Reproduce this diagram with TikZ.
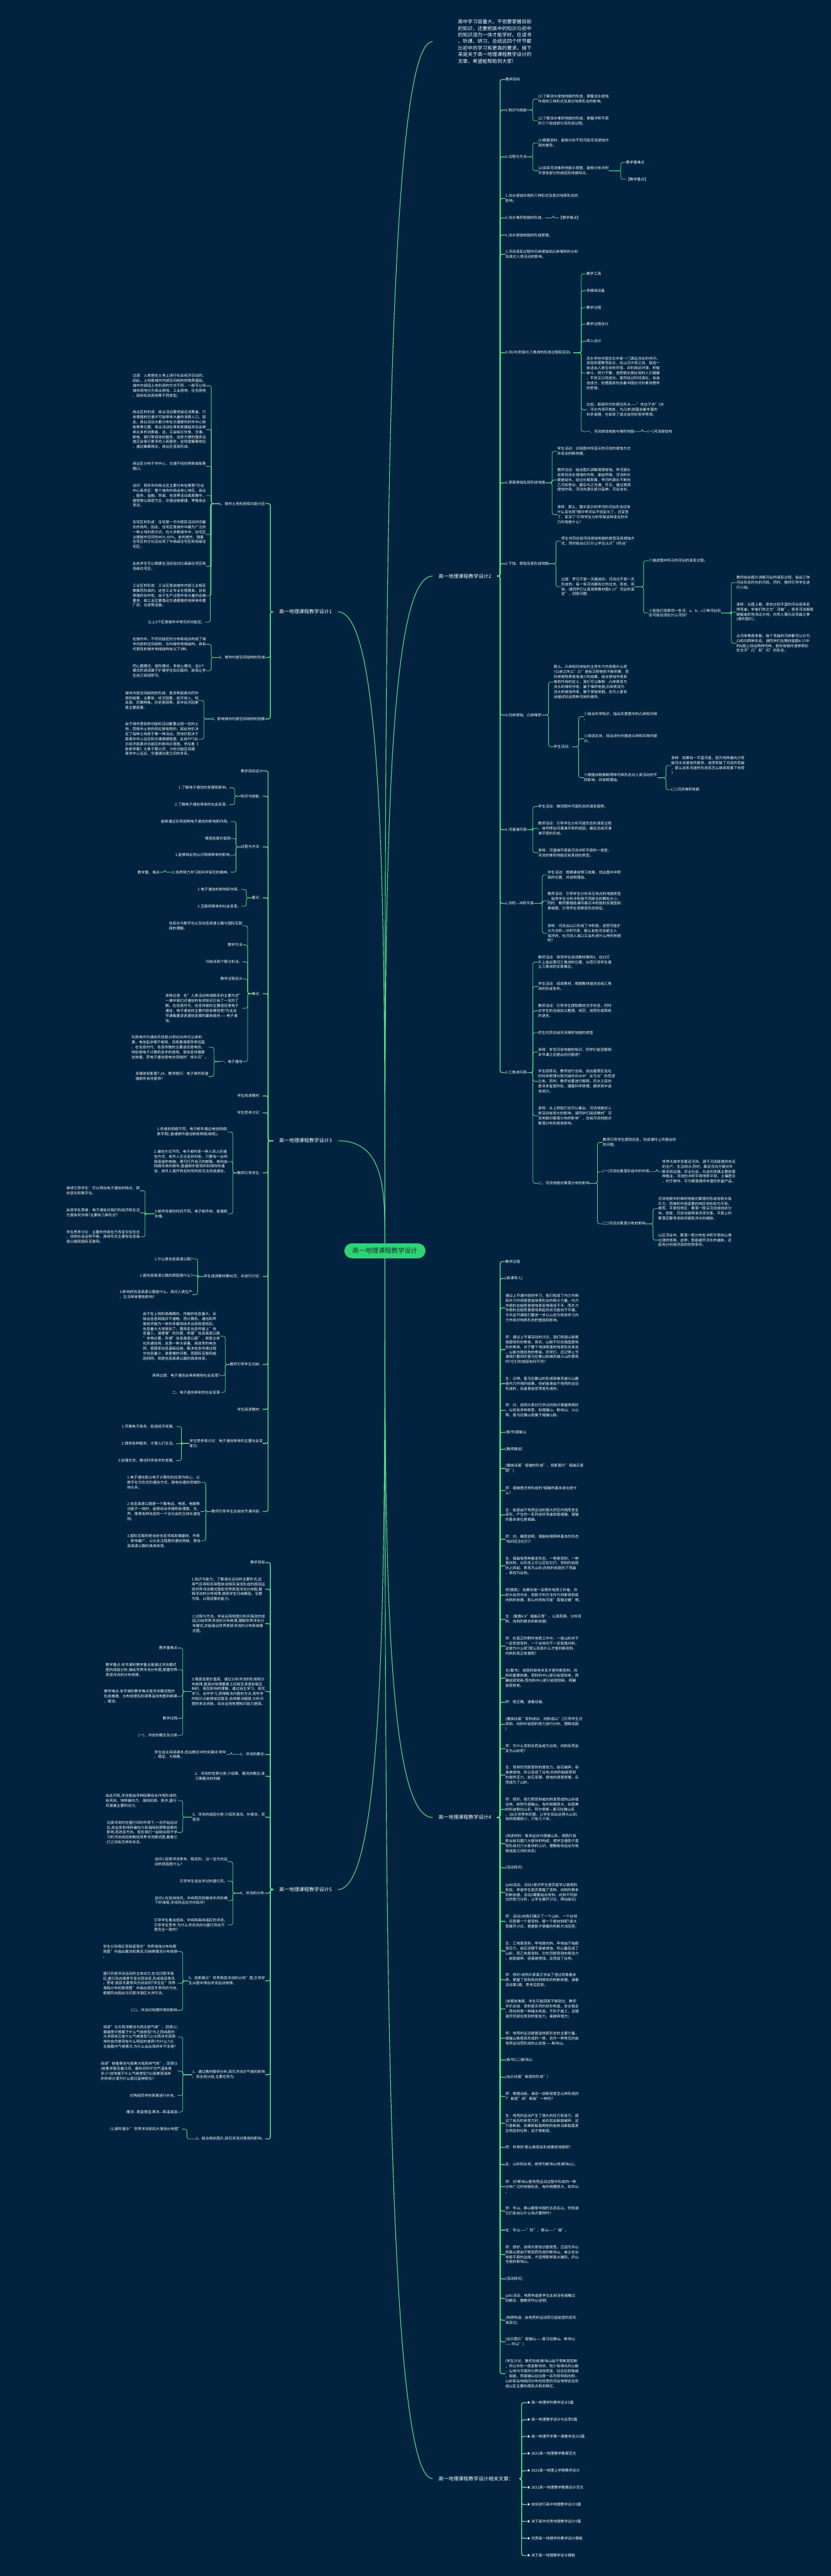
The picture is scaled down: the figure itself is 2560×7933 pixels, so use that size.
\documentclass[tikz,border=0pt]{standalone}
\usepackage{fontspec}
\setmainfont{Noto Sans CJK SC}
\usetikzlibrary{calc}

\definecolor{bgblue}{RGB}{1,35,63}
\definecolor{edge}{RGB}{84,218,138}
\definecolor{rootfill}{RGB}{46,211,118}
\definecolor{roottext}{RGB}{24,52,44}

\newcommand{\fsmall}{\fontsize{11.3}{15.2}\selectfont}
\newcommand{\fcat}{\fontsize{15.4}{20}\selectfont}
\newcommand{\fintro}{\fontsize{15.1}{20.2}\selectfont}
\newcommand{\froot}{\fontsize{20}{24}\selectfont}

\tikzset{
  txt/.style={font=\fsmall, text=white, inner sep=0pt, align=left},
  rt/.style={txt, anchor=west},
  lt/.style={txt, anchor=east},
  cat/.style={font=\fcat, text=white, inner xsep=18pt, inner ysep=3pt},
  root/.style={fill=rootfill, text=roottext, font=\froot, rounded corners=23pt,
    minimum width=250pt, minimum height=46pt},
  link/.style={draw=edge, line width=1.6pt, rounded corners=6pt},
  trunk/.style={link, line width=2.6pt},
  stem/.style={draw=edge, line width=2.2pt},
}

\begin{document}
\begin{tikzpicture}[x=1pt, y=-1pt]

  % ---- canvas ----
  \fill[bgblue] (0,0) rectangle (2560,7933);
  \useasboundingbox (0,0) rectangle (2560,7933);

  % ---- root and intro ----
  \node[root] (root) at (1186,3852) {高一地理课程教学设计};
  \node[font=\fintro, text=white, align=left, anchor=west, inner xsep=78pt, inner ysep=0pt]
    (intro) at (1333,128) {高中学习容量大，不但要掌握目前\\的知识，还要把高中的知识与初中\\的知识溶为一体才能学好。在读书\\、听课、研习、总结这四个环节都\\比初中的学习有更高的要求。接下\\来是关于高一地理课程教学设计的\\文章，希望能帮助到大家!};

  % ---- main branches ----
  \node[cat, anchor=east] (a) at (1041,1884) {高一地理课程教学设计1};
  \node[cat, anchor=west] (b) at (1333,1774) {高一地理课程教学设计2};
  \node[cat, anchor=east] (c) at (1041,3513) {高一地理课程教学设计3};
  \node[cat, anchor=west] (d) at (1333,5597) {高一地理课程教学设计4};
  \node[cat, anchor=east] (e) at (1041,5819) {高一地理课程教学设计5};
  \node[cat, anchor=west] (f) at (1333,7633) {高一地理课程教学设计相关文章：};

  % curves leave the root vertically and meet each branch horizontally
  \foreach \t/\an/\ra in {intro/west/north, b/west/north, a/east/north, c/east/north,
                         d/west/south, e/east/south, f/west/south} {
    \draw[stem] (root.\ra) .. controls ($(root.\ra)!0.5!(root.\ra |- \t.\an)$)
      and (root.\ra |- \t.\an) .. (\t.\an);
  }

  % ---- branch 1 (left) ----
  \node[lt] (a1) at (817,1551) {1、城市土地利用和功能分区};
  \node[lt] (a1a) at (635,1188) {过渡：人类是在土地上进行社会经济活动的，\\因此，土地是城市内部空间结构的物质基础，\\城市内部因土地利用的方式不同，一般可以将\\城市用地分为商业用地、工业用地、住宅用地\\、政府机关用地等不同类型。};
  \node[lt] (a1b) at (635,1323) {商业区的形成：商业活动要求接近消费者，只\\有便捷的交通才可能带来大量的消费人口，因\\此，商业活动大都分布在交通便利的市中心和\\街角等位置。商业活动在某地发展起来后会带\\来众多的消费者，这，又会吸引饮食、交通、\\邮电、银行等其他的服务，这些方便的服务设\\施又会吸引更多的人和服务，这就是集聚效应\\。通过集聚效应，商业区逐渐形成。};
  \node[lt] (a1c) at (635,1436) {商业区分布于市中心、交通干线的两侧或街角\\路口。};
  \node[lt] (a1d) at (635,1526) {设问：西安市的商业区主要分布在哪里?引出\\中心商务区：整个城市的商业核心地区，商业\\、服务、金融、贸易、信息等活动高度集中，\\建筑物以高层为主，交通运输便捷，零售商业\\发达。};
  \node[lt] (a1e) at (635,1646) {住宅区的形成：住宅是一天中居民活动时间最\\长的场所，因此，住宅区是城市中最为广泛的\\一种土地利用方式。在大多数城市中，住宅区\\占据城市空间的40\%-60\%。有的城市，随着\\住宅区的分化还出现了中高级住宅区和低级住\\宅区。};
  \node[lt] (a1f) at (635,1744) {此处学生可以根据生活经验对比高级住宅区和\\低级住宅区。};
  \node[lt] (a1g) at (635,1834) {工业区的形成：工业区是由城市内部工业相互\\聚集而形成的。这些工业专业化程度高，且有\\很强的协作性。由于生产过程中有大量的运输\\要求，故工业区要靠近交通便捷的地带来布置\\厂房、仓库等设施。};
  \node[lt] (a1h) at (632,1916) {以上3个区是城市中常见的功能区。};
  \node[lt] (a2) at (817,2025) {2、城市内部空间结构的形成};
  \node[lt] (a2a) at (635,1984) {在城市中，不同功能区的分布和组合构成了城\\市内部的空间结构，也叫城市地域结构。具有\\代表性的城市地域结构有以下3种。};
  \node[lt] (a2b) at (635,2066) {同心圆模式、扇形模式、多核心模式。这3个\\模式的阅读属于扩展学生知识面的，故我让学\\生自己阅读即可。};
  \node[lt] (a3) at (817,2214) {3、影响城市内部空间结构的因素};
  \node[lt] (a3a) at (612,2157) {城市内部空间结构的形成，是多种因素共同作\\用的结果。主要有：经济因素、经济收入、知\\名度、宗教种族、历史原因等，其中经济因素\\是主要因素。};
  \node[lt] (a3b) at (612,2276) {由于城市里各种功能的活动都要占用一定的土\\地，而城市土地的供应是有限的，因此地价决\\定了每种土地用于哪一种活动。而地价取决于\\距离市中心远近和交通便捷程度。此处PPT出\\示经济因素对功能区的影响示意图。学生看《\\新新学案》大册子第25页，分析功能区和距\\离市中心远近、交通通达度之间的关系。};

  % ---- branch 3 (left) ----
  \node[lt] (c1) at (810,2374) {教学目标设计};
  \node[lt] (c2) at (810,2452) {知识与技能：};
  \node[lt] (c2a) at (707,2426) {1.了解电子通信的发展和影响。};
  \node[lt] (c2b) at (707,2478) {2.了解电子通信带来的社会变革。};
  \node[lt] (c3) at (810,2608) {过程与方法：};
  \node[lt] (c3a) at (711,2530) {能够通过实例说明电子通信的影响和作用。};
  \node[lt] (c3b) at (711,2582) {情感态度价值观};
  \node[lt] (c3c) at (711,2634) {1.能够辩证地认识网络带来的影响;};
  \node[lt] (c3d) at (711,2686) {2.培养努力学习和科学探究的精神。};
  \node[lt] (c3d1) at (492,2686) {教学重、难点};
  \node[lt] (c4) at (810,2765) {重点：};
  \node[lt] (c4a) at (743,2739) {1.电子通信的影响和作用。};
  \node[lt] (c4b) at (743,2791) {2.互联网带来的社会变革。};
  \node[lt] (c5) at (810,3060) {难点：};
  \node[lt] (c5a) at (747,2851) {信息化与数字化以及信息高速公路与国际互联\\网的理解。};
  \node[lt] (c5b) at (747,2910) {教学方法};
  \node[lt] (c5c) at (747,2962) {归纳法和个案分析法。};
  \node[lt] (c5d) at (747,3015) {教学过程设计};
  \node[lt] (c5e) at (747,3105) {承转过渡：在"人类活动地域联系的主要方式"\\一课中我们对通信的有关知识已有了一定的了\\解。在信息时代，信息传输的主要途径是电子\\通信，电子通信的主要内容有哪些呢?为此这\\节课着重讲述通信发展的最新趋向——电子通\\信。};
  \node[lt] (c5f) at (747,3269) {一、电子通信};
  \node[lt] (c5f1) at (643,3225) {利用电作为通信手段是19世纪30年代以来的\\事，电信起步晚于邮政，但发展速度异常迅猛\\。在信息时代，信息传输的主要途径是电信，\\特别是电子计算机技术的使用，使信息传播更\\加快捷，而电子通信是电信领域的"排头兵"。};
  \node[lt] (c5f2) at (643,3315) {多媒体投影图7.24，教师提问：电子邮件和普\\通邮件有何差异?};
  \node[lt] (c6) at (810,3375) {学生阅读教材：};
  \node[lt] (c7) at (810,3427) {学生思考讨论：};
  \node[lt] (c8) at (810,3612) {教师引导学生：};
  \node[lt] (c8a) at (701,3486) {1.传递的网络不同。电子邮件通过电信网络(\\数字网);普通邮件通过邮政网络(邮局)。};
  \node[lt] (c8b) at (701,3577) {2.通信方式不同。电子邮件是一种人到人的通\\信方式，收件人无论走到何处，只要有一台网\\络连接的电脑，便可打开自己的邮箱，收到由\\网络传来的邮件;普通邮件是场所到场所的通\\信，收件人离开特定的场所就无法完成通信。};
  \node[lt] (c8c) at (701,3738) {3.邮件传递的时间不同。电子邮件快，普通邮\\件慢。};
  \node[lt] (c8c1) at (431,3667) {继续引导学生：可以得出电子通信的特点，即\\信息化和数字化。};
  \node[lt] (c8c2) at (431,3735) {启发学生思维：电子通信对我们的经济和生活\\方面有何作用?主要有几种形式?};
  \node[lt] (c8c3) at (431,3809) {学生思考讨论：主要的作用在于改变交往形式\\、加快社会运转节奏。具体形式主要有信息高\\速公路和国际互联网。};
  \node[lt] (c9) at (810,3931) {学生阅读教材第86页，并进行讨论：};
  \node[lt] (c9a) at (593,3877) {1.什么是信息高速公路?};
  \node[lt] (c9b) at (593,3928) {2.建信息高速公路的原因是什么?};
  \node[lt] (c9c) at (593,3987) {3.影响的信息高速公路是什么，其对人类生产\\、生活带来哪些影响?};
  \node[lt] (c10) at (810,4202) {教师引导学生归纳：};
  \node[lt] (c10a) at (678,4115) {由于在上网的高峰期内，传输的信息量大，反\\映出信息网络并不通畅，而计算机、通信和声\\像技术融为一体的多媒体技术出现和使用后，\\信息量大大地增加了。要改变信息传输上"信\\息量少、速度慢"的问题，修建"信息高速公路\\"非常必要。所谓"信息高速公路"，就是立体\\化的通信网，这是一种大容量、高效率的电信\\网，是国家信息基础设施，解决信息传递过程\\中信息量少、速度慢的问题。而国际互联网或\\因特网，就是信息高速公路的具体体现。};
  \node[lt] (c10b) at (678,4236) {承转过渡：电子通信会带来哪些社会变革?};
  \node[lt] (c10c) at (678,4288) {二、电子通信带来的社会变革};
  \node[lt] (c11) at (810,4340) {学生阅读教材：};
  \node[lt] (c12) at (810,4445) {学生思考和讨论：电子通信带来的主要社会变\\革为：};
  \node[lt] (c12a) at (543,4393) {1.开展电子商务，促进经济发展。};
  \node[lt] (c12b) at (543,4446) {2.提供各种服务，方便人们生活。};
  \node[lt] (c12c) at (543,4498) {3.加强交流，推动科学技术的发展。};
  \node[lt] (c13) at (810,4655) {教师引导学生总结本节课内容：};
  \node[lt] (c13a) at (618,4565) {1.电子通信是以电子计算机的应用为核心，以\\数字化为形式的通信方式，是电信通信领域的\\排头兵。};
  \node[lt] (c13b) at (618,4655) {2.信息高速公路是一个集电话、电视、电脑等\\功能于一体的，能够综合传输和处理图、文、\\声、像等各种信息的一个全社会的立体化通信\\网。};
  \node[lt] (c13c) at (618,4745) {3.国际互联网是当前信息领域发展最快、作用\\、影响最广、公众关注程度的通信网络，是信\\息高速公路的具体体现。};

  % ---- branch 5 (left) ----
  \node[lt] (e1) at (817,4812) {教学目标};
  \node[lt] (e2) at (817,4894) {1.知识与能力。了解海水运动的主要形式,运\\用气压带和风带图来说明风海流形成的原因运\\用世界洋流模式图和世界表层洋流分布图,解\\释洋流的分布规律,提高学生归纳概括、化繁\\为简、以简驭繁的能力。};
  \node[lt] (e3) at (817,5000) {2.过程与方法。学会运用地图分析风海流的成\\因,归纳世界洋流的分布规律,理解世界洋流分\\布模式,并能画出世界表层洋流的分布简单模\\式图。};
  \node[lt] (e4) at (817,5209) {3.情感态度价值观。通过分析洋流的形成和分\\布规律,提高对地理要素之间相互渗透和相互\\制约、相互影响的理解。通过自主学习、探究\\学习、合作学习,获得解决问题的方法,将所学\\的知识点能够前后联系,有效解决疑惑,分析问\\题的来龙去脉。综合运用地理知识能力提高。};
  \node[lt] (e4a) at (547,5075) {教学重难点};
  \node[lt] (e4b) at (547,5142) {教学重点:本节课的教学重点是通过洋流模式\\图的成因分析,描绘世界洋流分布图,掌握世界\\表层洋流的分布规律。};
  \node[lt] (e4c) at (547,5224) {教学难点:本节课的教学难点是洋流模式图的\\形成推理、分布规律及利用等温线地图判断寒\\、暖流。};
  \node[lt] (e4d) at (547,5292) {教学过程};
  \node[lt] (e4e) at (547,5344) {(一)、洋流的概念及分类};
  \node[lt] (e5) at (817,5403) {1、洋流的概念:};
  \node[lt] (e5a) at (697,5403) {学生自主阅读课本,找出概念中的关键词:常年\\、稳定、大规模。};
  \node[lt] (e6) at (817,5470) {2、洋流的性质分类:介绍寒、暖流的概念,练\\习寒暖流的判断};
  \node[lt] (e7) at (817,5596) {3、洋流的成因分类:介绍风海流、补偿流、密\\度流};
  \node[lt] (e7a) at (547,5545) {由此可知,洋流是由多种因素综合作用形成的,\\有风向、地转偏向力、海陆轮廓。其中,盛行\\风是最主要的动力。};
  \node[lt] (e7b) at (547,5643) {过渡洋流的在盛行风的作用下,一旦开始运动\\后,就会受到地转偏向力和海陆轮廓等因素的\\影响,而改变方向。现在我们一起结合刚才学\\习的洋流成因来概括世界洋流模式图,看看它\\们之间有怎样的关系。};
  \node[lt] (e8) at (817,5830) {4、洋流的分布:};
  \node[lt] (e8a) at (701,5733) {设问1:促使洋流常年、稳定的、沿一定方向运\\动的原因是什么?};
  \node[lt] (e8b) at (701,5793) {引导学生说出学过的盛行风。};
  \node[lt] (e8c) at (701,5853) {设问2:在低纬信风、中纬西风和极地东风吹拂\\下的海域,洋流的运动方向如何?};
  \node[lt] (e8d) at (701,5928) {引导学生看出低纬、中纬和高纬海区的洋流。\\引导学生思考:为什么洋流流向与盛行风向不\\是完全一致的?};
  \node[lt] (e9) at (817,6100) {5、投影展示"世界表层洋流的分布"图,引导学\\生从图中得出洋流运动规律。};
  \node[lt] (e9a) at (547,6010) {学生分别用红笔和蓝笔在"世界海陆分布轮廓\\简图"中画出暖流和寒流,归纳寒暖流分布规律\\。};
  \node[lt] (e9b) at (547,6108) {盛行风是洋流运动的主体动力,在北印度洋海\\区,盛行风向随季节变化而改变,形成南亚季风\\。思考:南亚冬夏季风方向如何?学生在"世界\\海陆分布轮廓简图"中画出南亚冬季风的方向,\\根据风向画出北印度洋海区大洋环流。};
  \node[lt] (e9c) at (547,6191) {(二)、洋流对地理环境的影响};
  \node[lt] (e10) at (817,6389) {1、通过教材案例分析,探究洋流对气候的影响\\。将全班分组,主要任务为:};
  \node[lt] (e10a) at (547,6273) {阅读"北大西洋暖流与西北欧气候"。回答(1)\\挪威卑尔根属于什么气候类型?与之同纬度的\\大洋西岸又是什么气候类型?(2)大西洋东西两\\岸的自然景观有什么明显的差异?为什么?(3)\\北极圈内气候寒冷,为什么会出现终年不冻港?};
  \node[lt] (e10b) at (547,6378) {阅读"秘鲁寒流与南美大陆西岸气候"。回答(5\\)秘鲁伊基克最冷月、最热月的平均气温各是\\多少?该地属于什么气候类型?(6)南美西海岸\\的热带沙漠为什么南北延伸很长?};
  \node[lt] (e10c) at (547,6453) {对两组同学的答案进行补充。};
  \node[lt] (e10d) at (547,6504) {暖流-{}-增温增湿;寒流—降温减湿};
  \node[lt] (e11) at (817,6587) {2、结合相关图片,探究洋流对渔场的影响。};
  \node[lt] (e11a) at (560,6557) {(1)课件展示:"世界洋流和四大渔场分布图"};

  % ---- branch 2 (right) ----
  \node[rt] (b1) at (1557,245) {教学目标};
  \node[rt] (b2) at (1557,339) {1.知识与技能};
  \node[rt] (b2a) at (1658,305) {(1)了解流水侵蚀地貌的形成，掌握流水侵蚀\\作用的三种形式及其对地表形态的影响。};
  \node[rt] (b2b) at (1658,372) {(2)了解流水堆积地貌的形成，掌握冲积平原\\的三个组成部分及形成过程。};
  \node[rt] (b3) at (1557,483) {2.过程与方法};
  \node[rt] (b3a) at (1658,440) {(1)根据资料，能够分析不同河段河流侵蚀作\\用的差异。};
  \node[rt] (b3b) at (1658,526) {(2)阅读河流堆积地貌示意图，能够分析冲积\\平原各部分的成因及地貌特点。};
  \node[rt] (b3b1) at (1929,500) {教学重难点};
  \node[rt] (b3b2) at (1929,552) {【教学重点】};
  \node[rt] (b4) at (1557,611) {1.流水侵蚀作用的三种形式及其对地表形态的\\影响。};
  \node[rt] (b5) at (1557,671) {2.流水堆积地貌的形成。};
  \node[rt] (b5a) at (1721,671) {【教学难点】};
  \node[rt] (b6) at (1557,724) {1.流水侵蚀地貌的形成原理。};
  \node[rt] (b7) at (1557,783) {2.河流演变过程中凹岸侵蚀和凸岸堆积的分析\\及其对人类活动的影响。};
  \node[rt] (b8) at (1557,1086) {3.洪(冲)积扇与三角洲的形成过程和区别。};
  \node[rt] (b8a) at (1807,843) {教学工具};
  \node[rt] (b8b) at (1807,895) {多媒体设备};
  \node[rt] (b8c) at (1807,947) {教学过程};
  \node[rt] (b8d) at (1807,998) {教学过程设计};
  \node[rt] (b8e) at (1807,1051) {导入设计};
  \node[rt] (b8f) at (1807,1149) {风水学在中国文化中是一门源远流长的学问。\\其目的是教导民众，在山河大地之间，挑选一\\处适合人类生存的环境，并利用此环境，积极\\奋斗，努力不懈，进而使长居此地的人们健康\\、平安又兴旺成功。虽然经过时间演化，有迷\\信成分，但里面却包含着中国古代朴素地理学\\的思想。};
  \node[rt] (b8g) at (1807,1262) {比如，殷商时代的居住风水——"攻位于汭"(汭\\：河水内湾环抱处，为凸岸)就蕴含着丰富的\\科学道理，也体现了道法自然的哲学思想。};
  \node[rt] (b8h) at (1807,1329) {一、河流侵蚀地貌与堆积地貌};
  \node[rt] (b8h1) at (1995,1329) {(一)河流侵蚀地};
  \node[rt] (b9) at (1557,1487) {1.溯源侵蚀及其形成地貌};
  \node[rt] (b9a) at (1717,1390) {学生活动：识别图中所显示的河流的侵蚀方式\\并说出判断依据。};
  \node[rt] (b9b) at (1717,1478) {教师活动：结合图片讲解溯源侵蚀。甲河源头\\处受到流水侵蚀的作用，基岩坍塌，河流的长\\度被延长。经过长期发展，甲河的源头不断向\\乙河处移动，最后与之沟通。可见，通过溯源\\侵蚀作用，河流向源头部分延伸，河谷加长。};
  \node[rt] (b9c) at (1717,1585) {承转：那么，图中显示的甲河的河谷形态还有\\什么变化呢?图中甲河谷不但变长了，还变宽\\了、变深了!引导学生分析导致这种变化的外\\力作用是什么?};
  \node[rt] (b10) at (1557,1736) {2.下蚀、侧蚀及其形成地貌};
  \node[rt] (b10a) at (1729,1666) {师生共同总结河流侵蚀地貌的类型及其侵蚀方\\式，同时结合幻灯片让学生认识"V形谷"};
  \node[rt] (b10b) at (1729,1807) {过渡：罗马不是一天建成的，河流也不是一天\\形成的。每一条河流都有它的过去、现在、将\\来。请同学们认真观察教材图4.17"河谷的演\\变"，回答问题：};
  \node[rt] (b10b1) at (1999,1727) {①描述图中所示的河谷的演变过程。};
  \node[rt] (b10b2) at (1999,1888) {②若我们观察同一条河，a、b、c三种河谷形\\态可能出现在什么河段?};
  \node[rt] (b10b2a) at (2269,1794) {教师结合图片讲解河谷的演变过程。指出三种\\河谷形态所在的河段。同时，教师引导学生进\\行小结。};
  \node[rt] (b10b2b) at (2269,1885) {承转：从图上看，原本比较平直的河谷逐渐变\\得弯曲，学者们称之为"河曲"。很多河流都是\\蜿蜒曲折地流过大地，向世人展示出弯曲之美\\(课件图片)。};
  \node[rt] (b10b2c) at (2269,1981) {从河岸角度来看，每个弯曲的河岸都可以分为\\凸和凹两种形态。请同学们在教材插图4.17中\\的b图上找出两种河岸，若你有疑问请参照彩\\形文字"凸"和"凹"的形态。};
  \node[rt] (b11) at (1557,2202) {3.凹岸侵蚀、凸岸堆积};
  \node[rt] (b11a) at (1706,2100) {那么，凸岸和凹岸处的主导外力作用是什么呢\\?凸岸之所以"凸"是有沉积物的不断积累，而\\凹岸是物质逐渐减少的结果。结合侵蚀作用和\\堆积作用的定义，我们可以推断：凸岸表现为\\流水的堆积作用，属于堆积地貌;凹岸表现为\\流水的侵蚀作用，属于侵蚀地貌。古代人曾有\\诗描述到这两种河岸的差异。};
  \node[rt] (b11b) at (1706,2300) {学生活动：};
  \node[rt] (b11b1) at (1799,2207) {①结合所学知识，指出实景图中的凸岸和凹岸\\。};
  \node[rt] (b11b2) at (1799,2275) {②阅读古诗，找出诗句中描述凸岸和凹岸的部\\分。};
  \node[rt] (b11b3) at (1799,2395) {③根据诗歌推断两种河岸形态对人类活动的不\\同影响，并说明理由。};
  \node[rt] (b11b3a) at (2068,2357) {承转：如果有一平直河道，因为地转偏向力导\\致河水流速有所差异，进而导致了河流的弯曲\\，那么这条河道的形态将怎么继续发展下去呢\\?};
  \node[rt] (b11b3b) at (2068,2432) {(二)河流堆积地貌};
  \node[rt] (b12) at (1557,2555) {1.河漫滩平原};
  \node[rt] (b12a) at (1658,2484) {学生活动：推测图中河道形态的演变趋势。};
  \node[rt] (b12b) at (1658,2551) {教师活动：引导学生分析河道形态的演变过程\\，自然得出河漫滩平原的成因，最后总结河漫\\滩平原的形成。};
  \node[rt] (b12c) at (1658,2626) {承转：河漫滩平原是河流冲积平原的一类型，\\河流的堆积地貌还有其他的类型。};
  \node[rt] (b13) at (1557,2782) {2.洪积—冲积平原};
  \node[rt] (b13a) at (1687,2694) {学生活动：根据课前预习成果，找出图中冲积\\扇的位置，并说明理由。};
  \node[rt] (b13b) at (1687,2775) {教师活动：引导学生分析采玉地点的地貌类型\\，指导学生分析冲积扇不同部位的颗粒大小。\\同时，教师要借助课件展示冲积扇的实景图和\\素描图，引导学生观察其形态特征。};
  \node[rt] (b13c) at (1687,2874) {承转：河流出山口形成了冲积扇，进而可能扩\\大为洪积—冲积平原，那么有些河流是注入\\海洋的，在河流入海口又会形成什么样的地貌\\呢?};
  \node[rt] (b14) at (1557,3303) {3.三角洲平原};
  \node[rt] (b14a) at (1658,2963) {教师活动：带领学生阅读教材案例3，在幻灯\\片上指出黄河三角洲的位置，从而引领学生建\\立三角洲的实景概念。};
  \node[rt] (b14b) at (1658,3038) {学生活动：阅读教材，根据教材描述总结三角\\洲的形成条件。};
  \node[rt] (b14c) at (1658,3113) {教师活动：引导学生提取教材文字信息，同时\\对学生的总结加以整理、规范，进而形成简练\\的语言。};
  \node[rt] (b14d) at (1658,3180) {师生共同总结河流堆积地貌的类型};
  \node[rt] (b14e) at (1658,3240) {承转：学完河流地貌的知识，同学们能否解释\\本节课之初提出的问题呢?};
  \node[rt] (b14f) at (1658,3330) {学生回答后，教师进行总结，说出墓葬区选址\\的科学原理与现代城市风水中"反弓水"的荒谬\\之处。同时，教师也要进行解释，风水之目的\\是寻求宜居所在，遵循科学原理，摒弃其中迷\\信成分。};
  \node[rt] (b14g) at (1658,3436) {承转：从上例我们也可以看出，河流地貌对人\\类活动有很大的影响。请同学们阅读教材"河\\流地貌对聚落分布的影响"，总结河流地貌对\\聚落分布的具体影响。};
  \node[rt] (b14h) at (1658,3644) {二、河流地貌对聚落分布的影响};
  \node[rt] (b14h1) at (1857,3518) {教师引导学生提取信息，完成课件上所提出的\\的问题。};
  \node[rt] (b14h2) at (1857,3608) {(一)河流在聚落形成中的作用};
  \node[rt] (b14h2a) at (2040,3608) {世界大城市多靠近河流，源于河流能提供充足\\的生产、生活用水;同时，靠近河流方便对外\\联系和运输。农业社会，社会的发展主要依靠\\种植业，河流的冲积平原地势平坦，土壤肥沃\\，利于耕作，可为聚落提供丰富的农副产品。};
  \node[rt] (b14h3) at (1857,3769) {(二)河流对聚落分布的影响};
  \node[rt] (b14h3a) at (2028,3722) {河流地貌中的堆积地貌对聚落的形成有很大吸\\引力，而堆积作用显著的地区地形较为平坦。\\故而，平原低地区：聚落一般沿河流成线状分\\布。但是，河流也能带来洪涝灾害，平原上的\\聚落还要考虑如何避免洪水的威胁。};
  \node[rt] (b14h3b) at (2028,3819) {山区河谷中，聚落一般分布在冲积平原向山坡\\过渡的地带。这样，既能避开洪水的威胁，还\\能充分利用河流的优势条件。};

  % ---- branch 4 (right) ----
  \node[rt] (d1) at (1557,3885) {教学过程};
  \node[rt] (d2) at (1557,3937) {[新课导入]};
  \node[rt] (d3) at (1557,4028) {通过上节课内容的学习，我们知道了内力作用\\和外力作用是塑造地表形态的两大力量，内力\\作用的总趋势是使地表变得高低不平，而外力\\作用的总趋势是使地表起伏状况趋向于平缓。\\今天这节课我们要进一步以山岳为例来学习内\\力作用对地表形态的塑造和影响。};
  \node[rt] (d4) at (1557,4156) {师：通过上节课活动的讨论，我们知道山脉是\\我国地形的骨架。其实，山脉不仅在我国是地\\形的骨架，对于整个地球表面的地表形态来说\\，山脉也是陆地的骨架。同学们，还记得上节\\课我们看到的喜马拉雅山和维苏威火山的景观\\吗?它们的成因有何不同?};
  \node[rt] (d5) at (1557,4261) {生：记得。喜马拉雅山的形成和维苏威火山都\\是内力作用的结果，但前者是由于地壳的运动\\形成的，后者是岩浆喷发形成的。};
  \node[rt] (d6) at (1557,4343) {师：对，说明大家对已学过的知识掌握得很好\\。山岳有多种类型，如褶皱山、断块山、火山\\等。喜马拉雅山就属于褶皱山脉。};
  \node[rt] (d7) at (1557,4411) {(板书)褶皱山};
  \node[rt] (d8) at (1557,4463) {[教师精讲]};
  \node[rt] (d9) at (1557,4522) {(播放动画"褶皱的形成"，投影图片"褶曲示意\\图")};
  \node[rt] (d10) at (1557,4590) {师：褶皱是怎样形成的?褶皱的基本单位是什\\么?};
  \node[rt] (d11) at (1557,4665) {生：岩层由于地壳运动的强大挤压作用而发生\\变形，产生的一系列波状弯曲就是褶皱。褶皱\\的基本单位是褶曲。};
  \node[rt] (d12) at (1557,4740) {师：对。看图说明，褶曲有哪两种基本的形态\\?如何区别它们?};
  \node[rt] (d13) at (1557,4822) {生：褶曲有两种基本形态，一种是背斜，一种\\是向斜。从形态上可以区别它们，背斜的岩层\\向上拱起，表现为山岭;向斜的岩层向下弯曲\\，表现为谷地。};
  \node[rt] (d14) at (1557,4912) {师(微笑)：如果你是一名野外地质工作者，你\\到大自然中去，用刚才的方法作为判断背斜和\\向斜的依据，那么你很有可能"南辕北辙"啊。};
  \node[rt] (d15) at (1557,4987) {生：(看图4.9"褶曲示意"，认真观察、分析背\\斜、向斜的根本判断依据)};
  \node[rt] (d16) at (1557,5069) {师：在真正的野外地质工作中，一座山岭并不\\一定就是背斜，一个谷地也不一定就是向斜，\\这是为什么呢?那么到底什么才是判断背斜、\\向斜的真正依据呢?};
  \node[rt] (d17) at (1557,5168) {生(看书)：岩层的新老关系才是判断背斜、向\\斜的重要依据。背斜的中心部分岩层较老，两\\翼岩层较新;而向斜中心部分岩层较新，两翼\\岩层较老。};
  \node[rt] (d18) at (1557,5242) {师：很正确，请看动画。};
  \node[rt] (d19) at (1557,5310) {(播放动画"背斜成谷，向斜成山")(引导学生对\\背斜、向斜中岩层的受力进行分析，理解成因\\)};
  \node[rt] (d20) at (1557,5385) {师：为什么背斜反而会成为谷地，向斜反而会\\变为山岭呢?};
  \node[rt] (d21) at (1557,5466) {生：背斜的顶部受到的是张力，岩石破碎，容\\易被侵蚀，所以变成了谷地;向斜的轴部受到\\的是挤压力，岩石坚硬，侵蚀的速度很慢，反\\而成为了山岭。};
  \node[rt] (d22) at (1557,5572) {师：很好。我们把背斜或向斜发育成的山岭或\\谷地，统称为褶皱山。有的规模很大，如南美\\的科迪勒拉山系、阿尔卑斯—喜马拉雅山系\\。(出示世界地形图，让学生找出这两大山系)\\有的规模很小，只有几十米。};
  \node[rt] (d23) at (1557,5678) {(阅读材料：板块运动与褶皱山系。用图片投\\影出岩石圈六大板块的构成，使学生借助于直\\观形成对六大板块的认识，理解板块运动与地\\貌成因之间的关系)};
  \node[rt] (d24) at (1557,5752) {(活动探究)};
  \node[rt] (d25) at (1557,5828) {(p80活动。活动1是对学生是否能学以致用的\\检验，考查学生是否掌握了背斜、向斜的根本\\判断依据。活动2需要结合背斜、向斜不同部\\位的受力分析，让学生展开讨论，得出结论)};
  \node[rt] (d26) at (1557,5917) {师：活动1向我们展示了一个山岭，一个谷地\\，究竟哪一个是背斜，哪一个是向斜呢?请大\\家展开讨论，根据刚才掌握的判断方法回答。};
  \node[rt] (d27) at (1557,6008) {生：乙地是背斜，甲地是向斜。甲地由于轴部\\受压力，岩石坚硬不易被侵蚀，所以最后成了\\山岭。而乙地是背斜，它的顶部受到的是张力\\，岩层破碎，容易被侵蚀，反而成了谷地。};
  \node[rt] (d28) at (1557,6097) {师：很好!说明大家真正学会了透过现象看本\\质，掌握了背斜和向斜根本的判断依据。请看\\活动第2题，思考后回答。};
  \node[rt] (d29) at (1557,6187) {(本题有难度，学生可能回答不够到位，教师\\评价总结：背斜是天然的拱形构造，安全稳定\\。而向斜是一种储水构造，不利于施工，且隧\\道开挖部位受到的是张力，易破碎塌方)};
  \node[rt] (d30) at (1557,6277) {师：地壳的运动是塑造地表形态的主要力量，\\褶皱山脉是其形成的一类，另外一种常见的由\\地壳运动而形成的山岳是——断块山。};
  \node[rt] (d31) at (1557,6344) {(板书)(二)断块山};
  \node[rt] (d32) at (1557,6397) {(出示动画"断层的形成")};
  \node[rt] (d33) at (1557,6456) {师：根据动画，请说一说断层是怎么样形成的\\?"断层"和"断裂"一样吗?};
  \node[rt] (d34) at (1557,6539) {生：地壳的运动产生了强大的压力和张力，超\\过了岩石的承受力时，岩石就会断裂破碎，这\\只是断裂。如果断裂面两侧的岩体沿断裂面发\\生明显的位移，这才是断层。};
  \node[rt] (d35) at (1557,6613) {师：非常好!那么断层会形成哪些地貌呢?};
  \node[rt] (d36) at (1557,6666) {生：山岭和谷地，统称为断块山地(断块山)。};
  \node[rt] (d37) at (1557,6734) {师：对!断块山是地壳运动过程中形成的一种\\分布广泛的地貌形态，有的规模很大。如华山\\。};
  \node[rt] (d38) at (1557,6809) {师：华山、泰山都是中国的五岳名山，你知道\\它们各自以什么特点著称吗?};
  \node[rt] (d39) at (1557,6868) {生：华山——"险"，泰山——"雄"。};
  \node[rt] (d40) at (1557,6943) {师：很好，说明大家知识面很宽。正因为华山\\和泰山是由于断层而形成的断块山，耸立在谷\\地和平原的边缘，才显得那样高大雄险，庐山\\也是的断块山。};
  \node[rt] (d41) at (1557,7018) {(活动探究)};
  \node[rt] (d42) at (1557,7078) {(p81活动，地质构造是学生此前没有接触过\\的概念，需教师作以说明)};
  \node[rt] (d43) at (1557,7145) {(地质构造：由地壳的运动而引起岩层的变形\\或变位)};
  \node[rt] (d44) at (1557,7212) {(出示图片"褶皱山——喜马拉雅山、断块山\\——华山")};
  \node[rt] (d45) at (1557,7310) {(学生讨论，教师总结)断块山由于受断层控制\\，所以外形一般呈断块状，较少有绵长的山脉\\，山地与平原的分界线较明显，往往比较陡峻\\、挺拔。而褶皱山往往是一系列背斜和向斜，\\山岭和谷地相间分布在较宽的河谷地带往往形\\成山区主要的居民点和农耕区。};

  % ---- related articles ----
  \foreach \i/\y/\s in {1/7399/高一地理学科教学设计5篇, 2/7452/高一地理教学设计与反思5篇,
      3/7503/高一地理开学第一课教学设计5篇, 4/7556/2021高一地理教学教案范文,
      5/7609/2021高一地理上学期教学设计, 6/7660/2021高一地理教学教案设计范文,
      7/7713/如何进行高中地理教学设计5篇, 8/7765/关于高中优秀地理教学设计5篇,
      9/7817/优秀高一地理学科教学设计模板, 10/7870/关于高一地理教学设计模板} {
    \node[rt] (f\i) at (1623,\y) {★ \s};
  }

  % ---- brackets, right side ----
  \foreach \c in {b1,b2,b3,b4,b5,b6,b7,b8,b9,b10,b11,b12,b13,b14}
    \draw[trunk] (b.east) -| ($(\c.west)+(-16,0)$) -- (\c.west);
  \foreach \i in {1,...,45}
    \draw[trunk] (d.east) -| ($(d\i.west)+(-16,0)$) -- (d\i.west);
  \foreach \i in {1,...,10}
    \draw[trunk] (f.east) -| ($(f\i.west)+(-16,0)$) -- (f\i.west);
  \foreach \p/\c in {b2/b2a, b2/b2b, b3/b3a, b3/b3b, b3b/b3b1, b3b/b3b2, b5/b5a,
      b8/b8a, b8/b8b, b8/b8c, b8/b8d, b8/b8e, b8/b8f, b8/b8g, b8/b8h, b8h/b8h1,
      b9/b9a, b9/b9b, b9/b9c, b10/b10a, b10/b10b, b10b/b10b1, b10b/b10b2,
      b10b2/b10b2a, b10b2/b10b2b, b10b2/b10b2c, b11/b11a, b11/b11b,
      b11b/b11b1, b11b/b11b2, b11b/b11b3, b11b3/b11b3a, b11b3/b11b3b,
      b12/b12a, b12/b12b, b12/b12c, b13/b13a, b13/b13b, b13/b13c,
      b14/b14a, b14/b14b, b14/b14c, b14/b14d, b14/b14e, b14/b14f, b14/b14g, b14/b14h,
      b14h/b14h1, b14h/b14h2, b14h/b14h3, b14h2/b14h2a, b14h3/b14h3a, b14h3/b14h3b}
    \draw[link] (\p.east) -| ($(\c.west)+(-16,0)$) -- (\c.west);

  % ---- brackets, left side ----
  \foreach \c in {a1,a2,a3}
    \draw[trunk] (a.west) -| ($(\c.east)+(16,0)$) -- (\c.east);
  \foreach \c in {c1,c2,c3,c4,c5,c6,c7,c8,c9,c10,c11,c12,c13}
    \draw[trunk] (c.west) -| ($(\c.east)+(16,0)$) -- (\c.east);
  \foreach \c in {e1,e2,e3,e4,e5,e6,e7,e8,e9,e10,e11}
    \draw[trunk] (e.west) -| ($(\c.east)+(16,0)$) -- (\c.east);
  \foreach \p/\c in {a1/a1a, a1/a1b, a1/a1c, a1/a1d, a1/a1e, a1/a1f, a1/a1g, a1/a1h,
      a2/a2a, a2/a2b, a3/a3a, a3/a3b,
      c2/c2a, c2/c2b, c3/c3a, c3/c3b, c3/c3c, c3/c3d, c3d/c3d1, c4/c4a, c4/c4b,
      c5/c5a, c5/c5b, c5/c5c, c5/c5d, c5/c5e, c5/c5f, c5f/c5f1, c5f/c5f2,
      c8/c8a, c8/c8b, c8/c8c, c8c/c8c1, c8c/c8c2, c8c/c8c3, c9/c9a, c9/c9b, c9/c9c,
      c10/c10a, c10/c10b, c10/c10c, c12/c12a, c12/c12b, c12/c12c,
      c13/c13a, c13/c13b, c13/c13c,
      e4/e4a, e4/e4b, e4/e4c, e4/e4d, e4/e4e, e5/e5a, e7/e7a, e7/e7b,
      e8/e8a, e8/e8b, e8/e8c, e8/e8d, e9/e9a, e9/e9b, e9/e9c,
      e10/e10a, e10/e10b, e10/e10c, e10/e10d, e11/e11a}
    \draw[link] (\p.west) -| ($(\c.east)+(16,0)$) -- (\c.east);

\end{tikzpicture}
\end{document}
